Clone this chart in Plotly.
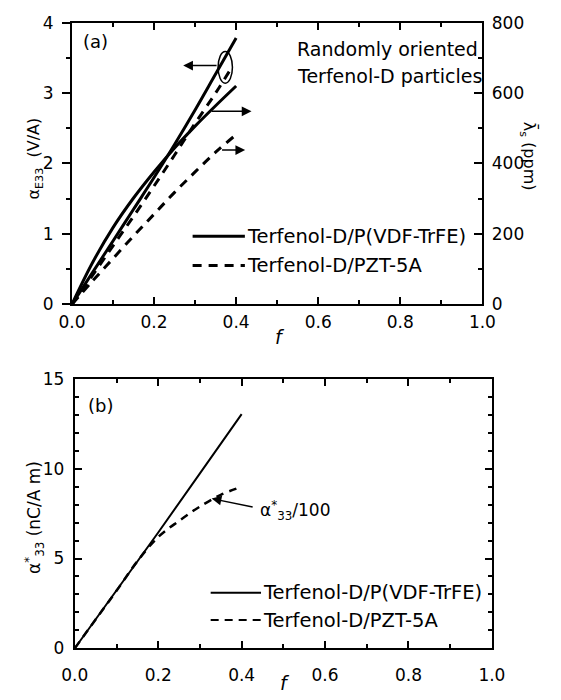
import plotly.graph_objects as go

# ---------------- data: panel (a) ----------------
f_a = [0, 0.05, 0.10, 0.15, 0.20, 0.25, 0.30, 0.35, 0.40]
alpha_E33_vdf = [0, 0.45, 0.90, 1.35, 1.80, 2.27, 2.76, 3.27, 3.78]      # V/A
f_a_pzt = [0, 0.05, 0.10, 0.15, 0.20, 0.25, 0.30, 0.35, 0.39]
alpha_E33_pzt = [0, 0.41, 0.83, 1.25, 1.68, 2.12, 2.57, 3.00, 3.37]      # V/A
lambda_s_vdf = [0, 118, 218, 302, 376, 444, 506, 564, 620]               # ppm
lambda_s_pzt = [0, 66, 130, 194, 256, 318, 376, 432, 482]                # ppm

# ---------------- data: panel (b) ----------------
f_b = [0, 0.10, 0.20, 0.30, 0.40]
alpha33_vdf = [0, 3.2, 6.45, 9.75, 13.05]                                # nC/A m
f_b_pzt = [0, 0.05, 0.10, 0.15, 0.20, 0.25, 0.30, 0.35, 0.40]
alpha33_pzt_div100 = [0, 1.6, 3.2, 4.85, 6.2, 7.1, 7.9, 8.55, 9.0]       # nC/A m /100

legend_names = ["Terfenol-D/P(VDF-TrFE)", "Terfenol-D/PZT-5A"]

W, H = 561, 700
FONT = "DejaVu Sans"


def px(x):
    return x / W


def py(y):
    return (H - y) / H


fig = go.Figure()

# panel (a) traces
fig.add_trace(go.Scatter(x=f_a, y=alpha_E33_vdf, mode="lines", line=dict(color="black", width=3, shape="spline"),
                         xaxis="x", yaxis="y", showlegend=False))
fig.add_trace(go.Scatter(x=f_a_pzt, y=alpha_E33_pzt, mode="lines",
                         line=dict(color="black", width=3, dash="9px,7px", shape="spline"),
                         xaxis="x", yaxis="y", showlegend=False))
fig.add_trace(go.Scatter(x=f_a, y=lambda_s_vdf, mode="lines", line=dict(color="black", width=3, shape="spline"),
                         xaxis="x", yaxis="y2", showlegend=False))
fig.add_trace(go.Scatter(x=f_a, y=lambda_s_pzt, mode="lines",
                         line=dict(color="black", width=3, dash="9px,7px", shape="spline"),
                         xaxis="x", yaxis="y2", showlegend=False))

# panel (b) traces
fig.add_trace(go.Scatter(x=f_b, y=alpha33_vdf, mode="lines", line=dict(color="black", width=2),
                         xaxis="x2", yaxis="y3", showlegend=False))
fig.add_trace(go.Scatter(x=f_b_pzt, y=alpha33_pzt_div100, mode="lines",
                         line=dict(color="black", width=2.5, dash="8px,6px", shape="spline"),
                         xaxis="x2", yaxis="y3", showlegend=False))

axis_common = dict(showgrid=False, zeroline=False, showline=True, linecolor="black", linewidth=2,
                   tickcolor="black", tickwidth=2, tickfont=dict(size=17, color="black", family=FONT))

xa_dom = [px(61), px(493)]
ya_dom = [py(303), py(13)]
xb_dom = [px(64), px(503)]
yb_dom = [py(657), py(380)]

fig.update_layout(
    width=W, height=H, autosize=False,
    margin=dict(l=0, r=0, t=0, b=0),
    paper_bgcolor="white", plot_bgcolor="white",
    font=dict(family=FONT, color="black"),
    xaxis=dict(axis_common, domain=xa_dom, anchor="y", range=[0, 1], dtick=0.2, tickformat=".1f",
               ticks="inside", ticklen=7, mirror="ticks", ticklabelstandoff=1,
               minor=dict(dtick=0.1, ticks="inside", ticklen=4, tickwidth=1.5, tickcolor="black")),
    yaxis=dict(axis_common, domain=ya_dom, anchor="x", range=[0, 4], dtick=1,
               ticks="outside", ticklen=8, ticklabelstandoff=5,
               minor=dict(dtick=0.5, ticks="outside", ticklen=4, tickwidth=1.5, tickcolor="black")),
    yaxis2=dict(axis_common, overlaying="y", side="right", anchor="x", range=[0, 800], dtick=200,
                ticks="inside", ticklen=8, ticklabelstandoff=4,
                minor=dict(dtick=100, ticks="inside", ticklen=4, tickwidth=1.5, tickcolor="black")),
    xaxis2=dict(axis_common, domain=xb_dom, anchor="y3", range=[0, 1], dtick=0.2, tickformat=".1f",
                ticks="inside", ticklen=7, mirror="ticks", ticklabelstandoff=10,
                minor=dict(dtick=0.1, ticks="inside", ticklen=4, tickwidth=1.5, tickcolor="black")),
    yaxis3=dict(axis_common, domain=yb_dom, anchor="x2", range=[0, 15], dtick=5,
                ticks="inside", ticklen=7, mirror="ticks", ticklabelstandoff=5,
                minor=dict(dtick=1, ticks="inside", ticklen=4, tickwidth=1.5, tickcolor="black")),
)

annotations = []
shapes = []


def text(x, y, t, size, xanchor="center", yanchor="middle", angle=0):
    annotations.append(dict(x=x, y=y, xref="paper", yref="paper", text=t, showarrow=False,
                            xanchor=xanchor, yanchor=yanchor, textangle=angle,
                            font=dict(size=size, family=FONT, color="black")))


# axis titles
text(px(280), py(337), "<i>f</i>", 19)
text(px(285), py(693), "<i>f</i>", 19)
text(px(22), py(153), "α<sub>E33</sub>  (V/A)", 16, angle=-90)
text(px(541), py(151), "λ̄<sub>s</sub> (ppm)", 16, angle=90)
text(px(21), py(522), "α<sup>*</sup><sub>33</sub> (nC/A m)", 17, angle=-90)

# panel labels and notes
text(px(71), py(32), "(a)", 18, xanchor="left")
text(px(76), py(407), "(b)", 18, xanchor="left")
text(px(296), py(40), "Randomly oriented", 19, xanchor="left")
text(px(296), py(68), "Terfenol-D particles", 19, xanchor="left")

# manual legends
leg_a = [(233, "solid"), (263, "dash")]
for (yy, dash), name in zip(leg_a, legend_names):
    shapes.append(dict(type="line", xref="paper", yref="paper", x0=px(188), x1=px(243), y0=py(yy), y1=py(yy),
                       line=dict(color="black", width=3, dash="9px,7px" if dash == "dash" else "solid")))
    text(px(243), py(yy), name, 19.5, xanchor="left")
leg_b = [(600, "solid"), (628, "dash")]
for (yy, dash), name in zip(leg_b, legend_names):
    shapes.append(dict(type="line", xref="paper", yref="paper", x0=px(207), x1=px(260), y0=py(yy), y1=py(yy),
                       line=dict(color="black", width=2, dash="8px,6px" if dash == "dash" else "solid")))
    text(px(260), py(yy), name, 19.5, xanchor="left")

# ellipse + arrows in panel (a)
shapes.append(dict(type="circle", xref="x", yref="y", x0=0.356, x1=0.391, y0=3.14, y1=3.59,
                   line=dict(color="black", width=1.5)))


def arrow(xref, yref, x_head, y_head, x_tail, y_tail, t="", size=17, xanchor="center"):
    annotations.append(dict(x=x_head, y=y_head, ax=x_tail, ay=y_tail, xref=xref, yref=yref,
                            axref=xref, ayref=yref, text=t, showarrow=True, arrowhead=2, arrowsize=1.3,
                            arrowwidth=1.5, arrowcolor="black", standoff=0, startstandoff=0,
                            font=dict(size=size, family=FONT, color="black")))


arrow("x", "y", 0.271, 3.39, 0.356, 3.39)
arrow("x", "y", 0.4375, 2.74, 0.337, 2.74)
arrow("x", "y", 0.422, 2.19, 0.362, 2.19)
# panel (b) arrow and label
arrow("x2", "y3", 0.328, 8.34, 0.43, 7.85)
annotations.append(dict(x=0.44, y=7.69, xref="x2", yref="y3", text="α<sup>*</sup><sub>33</sub>/100",
                        showarrow=False, xanchor="left", yanchor="middle",
                        font=dict(size=17, family=FONT, color="black")))

fig.update_layout(annotations=annotations, shapes=shapes)
fig.write_html("out.html")
